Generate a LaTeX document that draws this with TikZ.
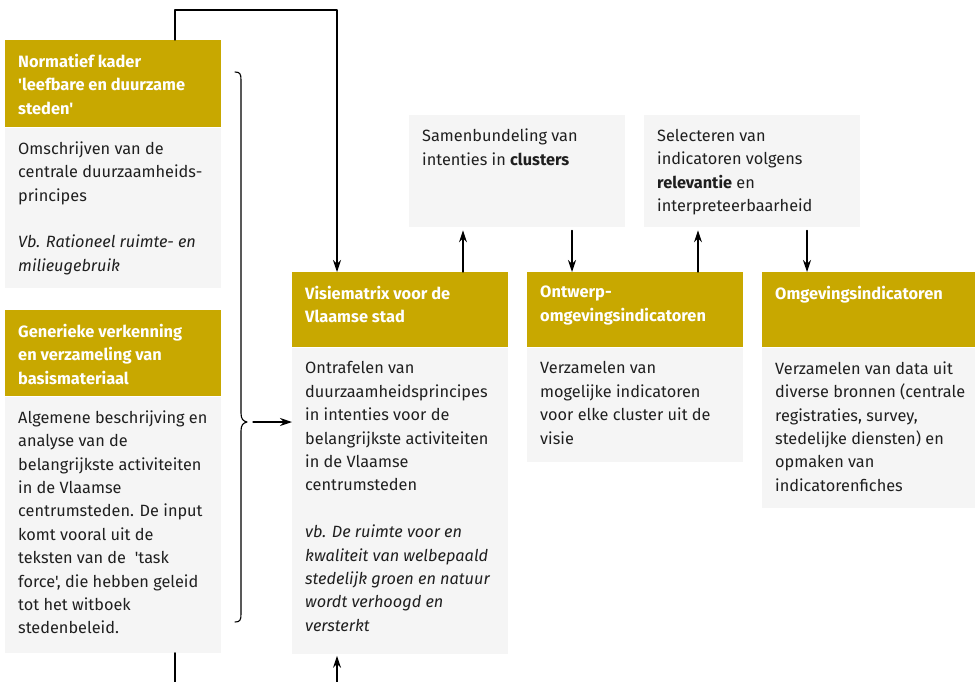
\documentclass[tikz,border=0pt]{standalone}
\usepackage{fontspec}
\setmainfont{Fira Sans}[Ligatures=TeXOff]
\usetikzlibrary{arrows.meta}
\definecolor{gold}{RGB}{200,168,0}
\definecolor{pale}{RGB}{245,245,245}
\tikzset{
  hdbox/.style={fill=gold,anchor=north west,inner sep=0pt,minimum width=216pt},
  bdbox/.style={fill=pale,anchor=north west,inner sep=0pt,minimum width=216pt},
  hdtxt/.style={anchor=north west,inner sep=0pt,align=left,text=white,font=\fontsize{16.4}{23.4}\selectfont\bfseries},
  bdtxt/.style={anchor=north west,inner sep=0pt,align=left,text=black!88,font=\fontsize{16.3}{23.4}\selectfont},
  arr/.style={-{Stealth[length=12pt,width=8pt]},line width=1.1pt}
}
\begin{document}
\begin{tikzpicture}[x=1pt,y=-1pt,line cap=round,line join=round]
  \useasboundingbox (0,0) rectangle (975,681);
  \node[hdbox,minimum height=87pt] (nkH) at (5,40) {};
  \node[bdbox,minimum height=160pt] (nkB) at (nkH.south west) {};
  \node[hdbox,minimum height=86pt] (gvH) at (5,310) {};
  \node[bdbox,minimum height=256pt] (gvB) at (gvH.south west) {};
  \node[hdbox,minimum height=75pt] (vmH) at (292,272) {};
  \node[bdbox,minimum height=306pt] (vmB) at (vmH.south west) {};
  \node[hdbox,minimum height=75pt] (owH) at (527,272) {};
  \node[bdbox,minimum height=114pt] (owB) at (owH.south west) {};
  \node[hdbox,minimum height=75pt,minimum width=213pt] (ogH) at (762,272) {};
  \node[bdbox,minimum height=160pt,minimum width=213pt] (ogB) at (ogH.south west) {};
  \node[bdbox,minimum height=112pt] (sbB) at (409,115) {};
  \node[bdbox,minimum height=112pt] (slB) at (644,115) {};
  \node[hdtxt] (nkHt) at ([shift={(13,14)}]nkH.north west) {Normatief kader\\'leefbare en duurzame\\steden'};
  \node[bdtxt] (nkBt) at ([shift={(13,14)}]nkB.north west) {Omschrijven van de\\centrale duurzaamheids-\\principes\\[23.4pt]\textit{Vb. Rationeel ruimte- en}\\\textit{milieugebruik}};
  \node[hdtxt] (gvHt) at ([shift={(13,14)}]gvH.north west) {Generieke verkenning\\en verzameling van\\basismateriaal};
  \node[bdtxt] (gvBt) at ([shift={(13,14)}]gvB.north west) {Algemene beschrijving en\\analyse van de\\belangrijkste activiteiten\\in de Vlaamse\\centrumsteden. De input\\komt vooral uit de\\teksten van de\ \ 'task\\force', die hebben geleid\\tot het witboek\\stedenbeleid.};
  \node[hdtxt] (vmHt) at ([shift={(13,14)}]vmH.north west) {Visiematrix voor de\\Vlaamse stad};
  \node[bdtxt] (vmBt) at ([shift={(13,14)}]vmB.north west) {Ontrafelen van\\duurzaamheidsprincipes\\in intenties voor de\\belangrijkste activiteiten\\in de Vlaamse\\centrumsteden\\[23.4pt]\textit{vb. De ruimte voor en}\\\textit{kwaliteit van welbepaald}\\\textit{stedelijk groen en natuur}\\\textit{wordt verhoogd en}\\\textit{versterkt}};
  \node[hdtxt] (owHt) at ([shift={(13,14)}]owH.north west) {Ontwerp-\\omgevingsindicatoren};
  \node[bdtxt] (owBt) at ([shift={(13,14)}]owB.north west) {Verzamelen van\\mogelijke indicatoren\\voor elke cluster uit de\\visie};
  \node[hdtxt] (ogHt) at ([shift={(13,14)}]ogH.north west) {Omgevingsindicatoren};
  \node[bdtxt] (ogBt) at ([shift={(13,14)}]ogB.north west) {Verzamelen van data uit\\diverse bronnen (centrale\\registraties, survey,\\stedelijke diensten) en\\opmaken van\\indicatorenfiches};
  \node[bdtxt] (sbBt) at ([shift={(13,14)}]sbB.north west) {Samenbundeling van\\intenties in \textbf{clusters}};
  \node[bdtxt] (slBt) at ([shift={(13,14)}]slB.north west) {Selecteren van\\indicatoren volgens\\\textbf{relevantie} en\\interpreteerbaarheid};
  \draw[arr] ([xshift=170pt]nkH.north west) -- ++(0,-30) -| ([xshift=45pt]vmH.north west);
  \draw[line width=1.1pt] ([xshift=170pt]gvB.south west) -- ++(0,30);
  \coordinate (vmIn) at ([xshift=45pt]vmB.south west);
  \draw[arr] (vmIn) ++(0,28) -- ([yshift=-2pt]vmIn);
  \coordinate (brT) at (235,72);
  \coordinate (brM) at (247,422);
  \coordinate (brB) at (235,622);
  \draw[line width=1.1pt] (brT) .. controls (240,72) and (241,74) .. (241,80) -- (241,413) .. controls (241,419) and (243,421) .. (brM) .. controls (243,423) and (241,425) .. (241,431) -- (241,614) .. controls (241,620) and (240,622) .. (brB);
  \draw[arr] ([xshift=6pt]brM) -- (brM -| vmB.west);
  \coordinate (vmUp) at ([xshift=171pt]vmH.north west);
  \draw[arr,shorten >=3pt] (vmUp) -- (vmUp |- sbB.south);
  \coordinate (owDn) at ([xshift=45pt]owH.north west);
  \draw[arr,shorten <=3pt] (owDn |- sbB.south) -- (owDn);
  \coordinate (owUp) at ([xshift=171pt]owH.north west);
  \draw[arr,shorten >=3pt] (owUp) -- (owUp |- slB.south);
  \coordinate (ogDn) at ([xshift=45pt]ogH.north west);
  \draw[arr,shorten <=3pt] (ogDn |- slB.south) -- (ogDn);
\end{tikzpicture}
\end{document}
